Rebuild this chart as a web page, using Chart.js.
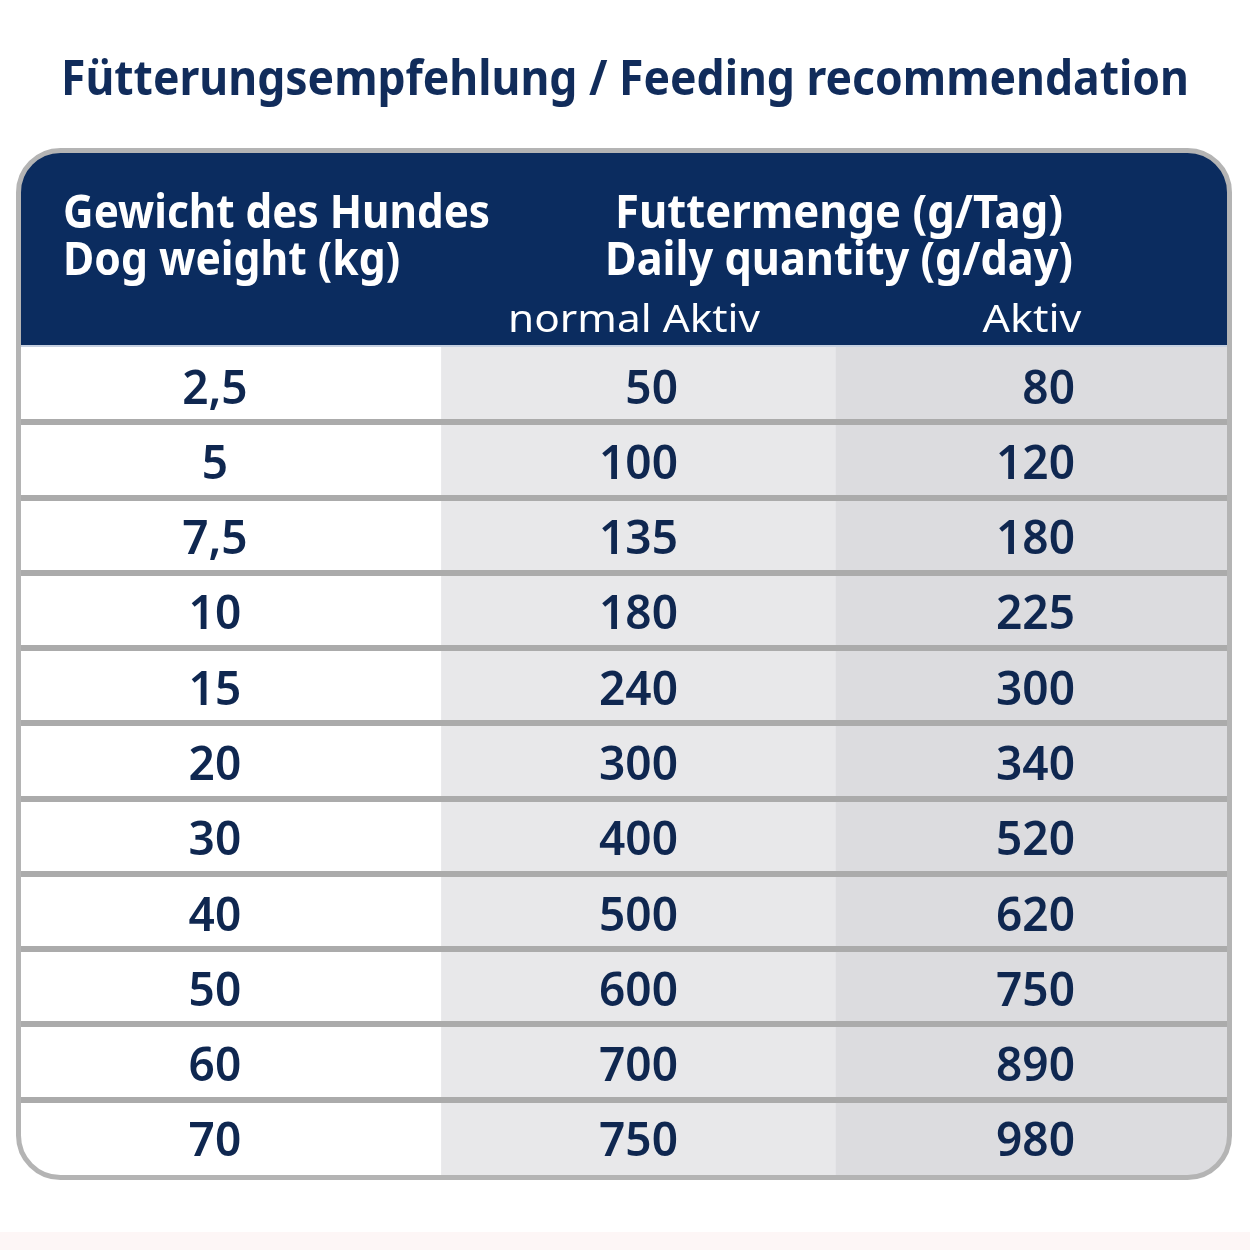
<!DOCTYPE html>
<html>
<head>
<meta charset="utf-8">
<script src="https://cdn.jsdelivr.net/npm/chart.js@4.4.1/dist/chart.umd.min.js"></script>
<style>
  html, body { margin: 0; padding: 0; background: #fff; }
  #wrap { width: 1250px; height: 1250px; }
</style>
</head>
<body>
<div id="wrap"><canvas id="feedChart" width="1250" height="1250"></canvas></div>
<script>
// data
const dogWeights = ["2,5", "5", "7,5", "10", "15", "20", "30", "40", "50", "60", "70"];
const normalActive = [50, 100, 135, 180, 240, 300, 400, 500, 600, 700, 750];
const active = [80, 120, 180, 225, 300, 340, 520, 620, 750, 890, 980];

const titleText = "Fütterungsempfehlung / Feeding recommendation";
const weightHeader = ["Gewicht des Hundes", "Dog weight (kg)"];
const quantityHeader = ["Futtermenge (g/Tag)", "Daily quantity (g/day)"];
const subHeaders = ["normal Aktiv", "Aktiv"];

// look
const NAVY = "#0b2c5f";
const INK = "#0f2750";
const FONT = "'Noto Sans', 'DejaVu Sans', sans-serif";
const colEdges = [0, 1.045, 2.025, 3]; // column borders in x-scale units
const cellFills = ["#ffffff", "#e8e8ea", "#dcdcdf"];
const anchors = { weight: 0.484, normal: 1.634, active: 2.62, head: 0.107, qty: 2.034, subN: 1.525, subA: 2.513 };

// draw text squeezed/stretched to a given width
function fitText(ctx, text, x, y, width, align) {
  const natural = ctx.measureText(text).width;
  ctx.save();
  ctx.translate(x, y);
  ctx.scale(width / natural, 1);
  ctx.textAlign = align;
  ctx.fillText(text, 0, 0);
  ctx.restore();
}

const tablePlugin = {
  id: "feedTable",
  beforeDraw(chart) {
    const { ctx, chartArea: a } = chart;
    ctx.save();
    ctx.fillStyle = "#ffffff";
    ctx.fillRect(0, 0, chart.width, chart.height);
    ctx.fillStyle = "#fdf6f6";
    ctx.fillRect(0, 1232, chart.width, chart.height - 1232);
    const top = a.top - 195;
    ctx.beginPath();
    ctx.roundRect(a.left, top, a.right - a.left, a.top - 2 - top, [40, 40, 0, 0]);
    ctx.fillStyle = NAVY;
    ctx.fill();
    ctx.fillStyle = "#c6d0e0";
    ctx.fillRect(a.left, a.top - 2, a.right - a.left, 2);
    ctx.restore();
  },
  beforeDatasetsDraw(chart) {
    const { ctx, chartArea: a } = chart;
    ctx.save();
    ctx.beginPath();
    ctx.roundRect(a.left, a.top, a.right - a.left, a.bottom - a.top + 3, [0, 0, 40, 40]);
    ctx.clip();
  },
  afterDatasetsDraw(chart) {
    chart.ctx.restore();
  },
  afterDraw(chart) {
    const { ctx, chartArea: a, scales } = chart;
    const x = scales.x, y = scales.y;
    ctx.save();

    // frame
    ctx.beginPath();
    ctx.roundRect(a.left - 1.5, a.top - 196.5, a.right - a.left + 3, a.bottom - a.top + 199, 42);
    ctx.lineWidth = 5;
    ctx.strokeStyle = "#b4b4b4";
    ctx.stroke();

    // title
    ctx.fillStyle = "#112c5b";
    ctx.textBaseline = "alphabetic";
    ctx.font = `bold 48px ${FONT}`;
    fitText(ctx, titleText, chart.width / 2, 95, 1128, "center");

    // header
    ctx.fillStyle = "#ffffff";
    ctx.font = `bold 47px ${FONT}`;
    fitText(ctx, weightHeader[0], x.getPixelForValue(anchors.head), a.top - 119, 427, "left");
    fitText(ctx, weightHeader[1], x.getPixelForValue(anchors.head), a.top - 72, 337, "left");
    fitText(ctx, quantityHeader[0], x.getPixelForValue(anchors.qty), a.top - 119, 448, "center");
    fitText(ctx, quantityHeader[1], x.getPixelForValue(anchors.qty), a.top - 72, 468, "center");
    ctx.font = `38px ${FONT}`;
    fitText(ctx, subHeaders[0], x.getPixelForValue(anchors.subN), a.top - 15, 252, "center");
    fitText(ctx, subHeaders[1], x.getPixelForValue(anchors.subA), a.top - 15, 99, "center");

    // cells
    ctx.fillStyle = INK;
    ctx.font = `600 46px ${FONT}`;
    dogWeights.forEach((w, i) => {
      const py = y.getPixelForValue(i) + 19;
      ctx.textAlign = "center";
      ctx.fillText(w, x.getPixelForValue(anchors.weight), py);
      ctx.textAlign = "right";
      ctx.fillText(String(normalActive[i]), x.getPixelForValue(anchors.normal), py);
      ctx.fillText(String(active[i]), x.getPixelForValue(anchors.active), py);
    });
    ctx.restore();
  }
};

const rowCount = dogWeights.length;

new Chart(document.getElementById("feedChart"), {
  type: "bar",
  data: {
    labels: dogWeights,
    datasets: cellFills.map((fill, c) => ({
      data: dogWeights.map(() => [colEdges[c], colEdges[c + 1]]),
      backgroundColor: fill,
      borderWidth: 0,
      barPercentage: 1,
      categoryPercentage: 1,
      grouped: false,
    })),
  },
  options: {
    indexAxis: "y",
    responsive: false,
    animation: false,
    layout: { padding: { top: 347, left: 20, right: 22, bottom: 75 } },
    plugins: {
      legend: { display: false },
      tooltip: { enabled: false },
      title: { display: false },
    },
    scales: {
      x: { type: "linear", min: 0, max: 3, display: false },
      y: {
        ticks: { display: false },
        border: { display: false },
        grid: {
          z: 1,
          offset: true,
          drawTicks: false,
          lineWidth: 6,
          color: (ctx) => (ctx.index > 0 && ctx.index < rowCount ? "#ababab" : "rgba(0,0,0,0)"),
        },
        afterFit(scale) { scale.width = 0; },
      },
    },
  },
  plugins: [tablePlugin],
});
</script>
</body>
</html>
